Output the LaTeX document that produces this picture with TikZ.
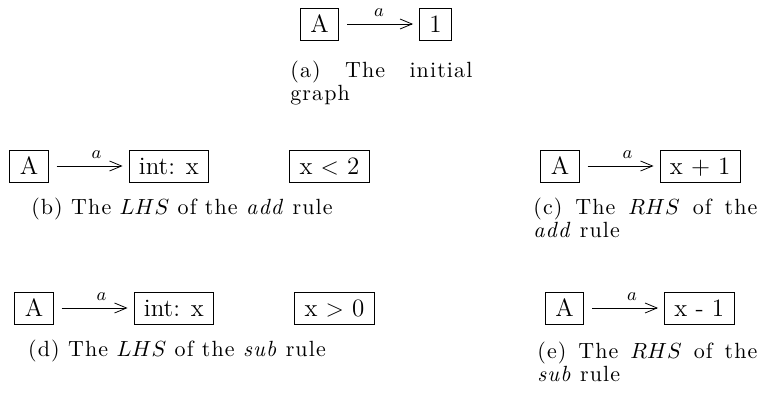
\documentclass[tikz,border=0pt]{standalone}
\usepackage{fontspec}
\newfontfamily\capfont[LetterSpace=5]{Latin Modern Roman}
\usetikzlibrary{positioning,arrows.meta}
\begin{document}
\begin{tikzpicture}[x=0.5pt, y=-0.5pt, node distance=40pt,
    vert/.style={draw, font=\fontsize{12.5}{14}\selectfont, inner xsep=5pt, inner ysep=3.8pt,
      text height=8.4pt, text depth=0pt},
    edge/.style={-{Straight Barb[length=6pt,width=5pt]}, shorten <=4pt, shorten >=3pt},
    lbl/.style={above, font=\fontsize{9}{10}\selectfont},
    capt/.style={font=\capfont\fontsize{11}{11.8}\selectfont, inner sep=0pt, anchor=base west, align=justify}]
    \useasboundingbox (0,0) rectangle (761,396);

    % (a) initial graph
    \node[vert] (a1) at (319.5,24) {A};
    \node[vert, right=of a1] (a2) {1};
    \draw[edge] (a1) -- node[lbl] {$a$} (a2);
    \node[capt, text width=91pt] (capa) at (290,77) {(a) The initial\linebreak graph};

    % (b) LHS of add
    \node[vert] (b1) at (29,166) {A};
    \node[vert, right=of b1] (b2) {int: x};
    \node[vert, right=of b2] (b3) {x $<$ 2};
    \draw[edge] (b1) -- node[lbl, pos=0.6] {$a$} (b2);
    \node[capt, anchor=base] (capb) at (182,214) {(b) The $LHS$ of the \textit{add} rule};

    % (c) RHS of add
    \node[vert] (c1) at (560,166) {A};
    \node[vert, right=of c1] (c2) {x + 1};
    \draw[edge] (c1) -- node[lbl, pos=0.6] {$a$} (c2);
    \node[capt, text width=112pt] (capc) at (533,214) {(c) The $RHS$ of the\linebreak \textit{add} rule};

    % (d) LHS of sub
    \node[vert] (d1) at (34,308) {A};
    \node[vert, right=of d1] (d2) {int: x};
    \node[vert, right=of d2] (d3) {x $>$ 0};
    \draw[edge] (d1) -- node[lbl, pos=0.6] {$a$} (d2);
    \node[capt, anchor=base] (capd) at (177,356) {(d) The $LHS$ of the \textit{sub} rule};

    % (e) RHS of sub
    \node[vert] (e1) at (564.5,308) {A};
    \node[vert, right=of e1] (e2) {x - 1};
    \draw[edge] (e1) -- node[lbl, pos=0.6] {$a$} (e2);
    \node[capt, text width=110pt] (cape) at (537,358) {(e) The $RHS$ of the\linebreak \textit{sub} rule};
\end{tikzpicture}
\end{document}
